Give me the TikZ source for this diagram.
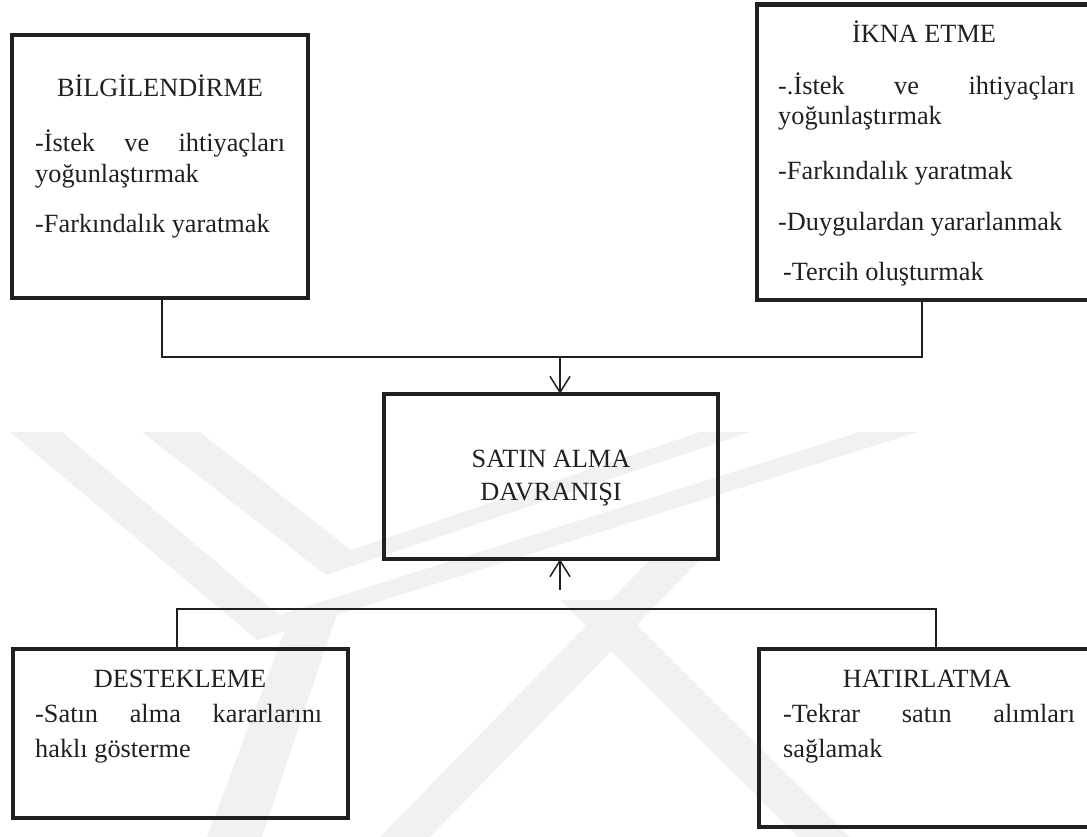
\documentclass[tikz,border=0pt]{standalone}
\usepackage{fontspec}
\setmainfont{Liberation Serif}
\usetikzlibrary{arrows.meta}
\definecolor{ink}{RGB}{35,31,32}
\definecolor{wm}{RGB}{241,241,241}
\begin{document}
\begin{tikzpicture}[x=1pt,y=-1pt,
  box/.style={draw=ink, line width=4.5pt, rectangle, inner sep=0pt},
  conn/.style={draw=ink, line width=1.5pt},
  arr/.style={conn, -{Straight Barb[length=16pt,width=20pt,line width=1.5pt]}},
  txt/.style={inner sep=0pt, anchor=base west, text=ink, font=\fontsize{26.3}{31}\selectfont},
  ttl/.style={txt, anchor=base},
]
\useasboundingbox (0,0) rectangle (1087,837);
\clip (0,0) rectangle (1087,837);
% watermark
\fill[wm] (10,432) -- (257,640) -- (918,432) -- (860,432) -- (279,615) -- (62,432) -- cycle;
\fill[wm] (142,432) -- (326,575) -- (750,432) -- (700,432) -- (351,550) -- (200,432) -- cycle;
\fill[wm] (285,630) -- (340,605) -- (262,837) -- (207,837) -- cycle;
\fill[wm] (650,560) -- (700,560) -- (430,837) -- (380,837) -- cycle;
\fill[wm] (560,600) -- (612,600) -- (850,837) -- (798,837) -- cycle;
% boxes
\node[box, minimum width=296pt, minimum height=263pt] (b1) at (160,166.5) {};
\node[box, minimum width=337pt, minimum height=295.5pt] (b2) at (925.5,152.25) {};
\node[box, minimum width=334pt, minimum height=165pt] (b3) at (551,476.5) {};
\node[box, minimum width=335pt, minimum height=169pt] (b4) at (180.5,733.5) {};
\node[box, minimum width=335pt, minimum height=178pt] (b5) at (926.5,738) {};
% texts
\node[ttl] (t1) at (160,97) {BİLGİLENDİRME};
\node[txt] (t1a) at (35,152) {\hbox to 250pt{-İstek\hfill ve\hfill ihtiyaçları}};
\node[txt] (t1b) at (35,183) {yoğunlaştırmak};
\node[txt] (t1c) at (35,233) {-Farkındalık yaratmak};
\node[ttl] (t2) at (924,43) {İKNA ETME};
\node[txt] (t2a) at (778,95) {\hbox to 297pt{-.İstek\hfill ve\hfill ihtiyaçları}};
\node[txt] (t2b) at (778,125) {yoğunlaştırmak};
\node[txt] (t2c) at (778,180) {-Farkındalık yaratmak};
\node[txt] (t2d) at (778,230) {-Duygulardan yararlanmak};
\node[txt] (t2e) at (783,280) {-Tercih oluşturmak};
\node[ttl] (t3a) at (551,467) {SATIN ALMA};
\node[ttl] (t3b) at (551,500) {DAVRANIŞI};
\node[ttl] (t4) at (180,687) {DESTEKLEME};
\node[txt] (t4a) at (35,722) {\hbox to 287pt{-Satın\hfill alma\hfill kararlarını}};
\node[txt] (t4b) at (35,757) {haklı gösterme};
\node[ttl] (t5) at (927,687) {HATIRLATMA};
\node[txt] (t5a) at (783,722) {\hbox to 292pt{-Tekrar\hfill satın\hfill alımları}};
\node[txt] (t5b) at (783,757) {sağlamak};
% connectors
\coordinate (j1) at (560,357);
\coordinate (j2) at (922,357);
\coordinate (j4) at (177,609);
\coordinate (j5) at (936,609);
\coordinate (a2) at (560,590);
\draw[conn] ([xshift=2pt]b1.south) |- (j1) -- (j2) -- (j2 |- b2.south);
\draw[arr] (j1) -- ([yshift=-2pt]j1 |- b3.north);
\draw[conn] (j4 |- b4.north) -- (j4) -- (j5) -- (j5 |- b5.north);
\draw[arr] (a2) -- ([yshift=2pt]a2 |- b3.south);
\end{tikzpicture}
\end{document}
